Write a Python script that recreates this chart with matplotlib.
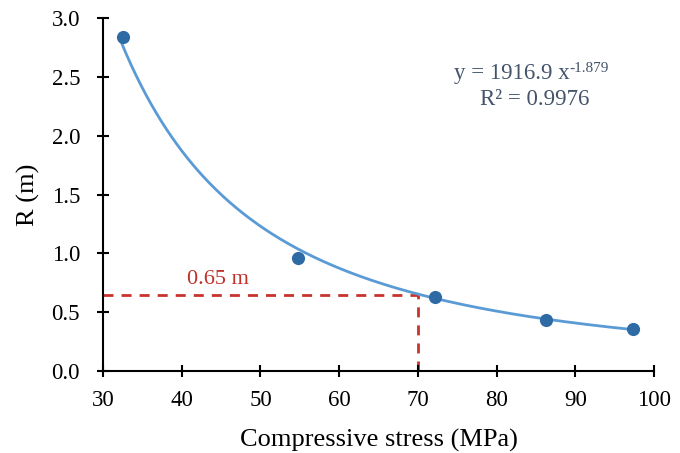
import numpy as np
import matplotlib
matplotlib.use("Agg")
import matplotlib.pyplot as plt

# Data
stress = [32.6, 54.8, 72.2, 86.3, 97.3]
radius = [2.84, 0.96, 0.63, 0.43, 0.36]
fit_a = 1916.9
fit_b = -1.879
fit_x_range = [32.2, 97.3]
r2 = 0.9976
target_stress = 70
target_r = 0.65
xticks = [30, 40, 50, 60, 70, 80, 90, 100]
yticks = [0.0, 0.5, 1.0, 1.5, 2.0, 2.5, 3.0]

plt.rcParams['font.family'] = ['Liberation Serif', 'DejaVu Serif']

fig = plt.figure(figsize=(6.8, 4.53), dpi=100)
ax = fig.add_axes([0.1515, 0.181, 0.8103, 0.779])

xf = np.linspace(fit_x_range[0], fit_x_range[1], 300)
ax.plot(xf, fit_a * xf ** fit_b, color='#5b9bd5', lw=2, zorder=2)
ax.scatter(stress, radius, s=90, color='#2e6ba4', zorder=3, linewidths=0)

red = '#c8332d'
ax.plot([30, target_stress], [target_r, target_r], color=red, lw=2,
        dashes=(3.6, 2.9), zorder=1)
ax.plot([target_stress, target_stress], [0, target_r], color=red, lw=2,
        dashes=(3.6, 2.9), zorder=1)
ax.text(44.6, 0.78, f'{target_r} m', color='#c0302a', fontsize=16,
        ha='center', va='center')

eq_color = '#44546a'
t1 = ax.text(74.6, 2.53, f'y = {fit_a} x', color=eq_color,
             fontsize=16.5, ha='left', va='center')
ax.annotate(f'{fit_b}', xy=(1.0, 1.02), xycoords=t1, ha='left', va='top',
            fontsize=11, color=eq_color)
ax.text(84.9, 2.31, f'R² = {r2}', color=eq_color, fontsize=16.5,
        ha='center', va='center')

ax.set_xlim(30, 100)
ax.set_ylim(0, 3.0)
ax.set_xticks(xticks)
ax.set_yticks(yticks)
ax.set_yticklabels([f'{v:.1f}' for v in yticks])
for s in ['top', 'right']:
    ax.spines[s].set_visible(False)
for s in ['left', 'bottom']:
    ax.spines[s].set_linewidth(1.5)
ax.tick_params(direction='inout', length=9, width=1.5, labelsize=16.5)
ax.tick_params(axis='x', pad=9)
ax.tick_params(axis='y', pad=12)
ax.set_xlabel('Compressive stress (MPa)', fontsize=19, labelpad=13)
ax.set_ylabel('R (m)', fontsize=19, labelpad=8)

fig.savefig('out.png', dpi=100)
